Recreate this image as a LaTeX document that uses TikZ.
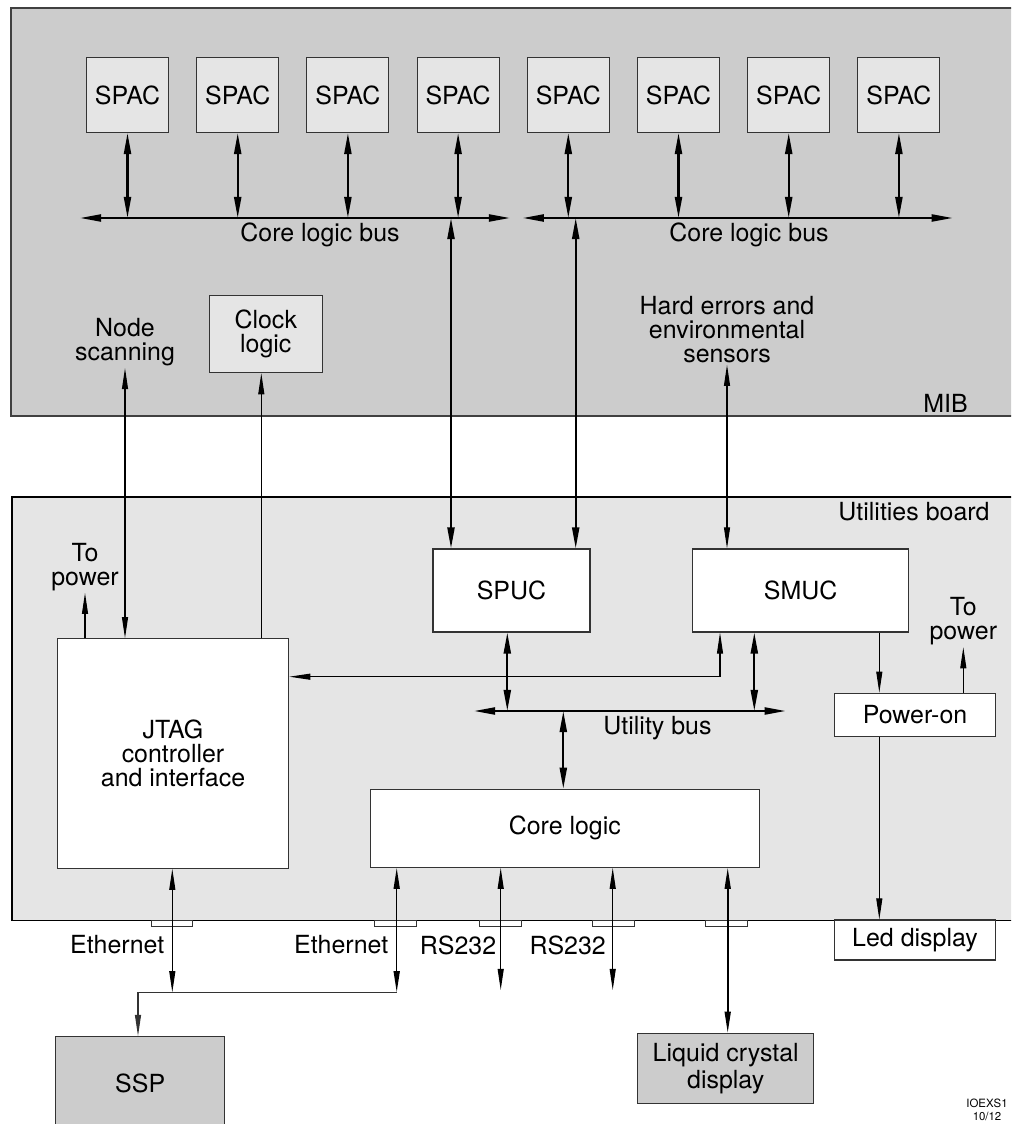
\documentclass[tikz,border=0pt]{standalone}
\usepackage{fontspec}
\setmainfont{TeX Gyre Heros}
\usepackage{xcolor}
\usetikzlibrary{positioning, arrows.meta}
\definecolor{mibgray}{HTML}{CCCCCC}
\definecolor{ubgray}{HTML}{E5E5E5}
\definecolor{edge}{HTML}{333333}

\begin{document}
\begin{tikzpicture}[
    x=0.02cm, y=-0.02cm,
    >={Triangle[length=12pt, width=3.4pt]},
    font=\fontsize{14.2}{13.6}\selectfont,
    box/.style={draw=edge, line width=0.6pt, align=center, inner sep=0pt},
    lt/.style={box, fill=ubgray},
    dk/.style={box, fill=mibgray},
    wt/.style={box, fill=white},
    lbl/.style={align=center, inner sep=1pt},
    tab/.style={draw=edge, line width=0.5pt, fill=white, inner sep=0pt,
                minimum width=0.834cm, minimum height=0.134cm},
    thn/.style={line width=0.6pt},
    thk/.style={line width=1.2pt, >={Triangle[length=12pt, width=4pt]}}]
    \useasboundingbox (0,0) rectangle (1011,1124);
    \clip (0,0) rectangle (1011,1124);
    % boards
    \node[draw=black!75, line width=0.7pt, fill=mibgray, inner sep=0pt,
          minimum width=20.28cm, minimum height=8.16cm] (mib) at (518,212) {};
    \node[draw=black, line width=1.1pt, fill=ubgray, inner sep=0pt,
          minimum width=20.26cm, minimum height=8.47cm] (ub) at (518.5,708.8) {};
    \node[lbl] (miblbl) at (945.5,403.3) {MIB};
    \node[lbl] (ublbl) at (914,511.7) {Utilities board};
    % MIB contents
    \foreach \i in {1,...,8}
      \node[lt, minimum width=1.64cm, minimum height=1.5cm] (s\i) at ({127.5+110.2*(\i-1)},95) {SPAC};
    \coordinate (b1w) at (80,218);
    \coordinate (b1e) at (510,218);
    \coordinate (b2w) at (522.7,218);
    \coordinate (b2e) at (952.7,218);
    \draw[thk,<->] (b1w) -- (b1e);
    \draw[thk,<->] (b2w) -- (b2e);
    \foreach \i in {1,...,4}
      \draw[thk,<->] (s\i.south) -- (s\i.south |- b1w);
    \foreach \i in {5,...,8}
      \draw[thk,<->] (s\i.south) -- (s\i.south |- b2w);
    \node[lbl] (cb1) at (320,235) {Core logic bus};
    \node[lbl] (cb2) at (749,235) {Core logic bus};
    \node[lbl] (ns) at (125,342.2) {Node\\scanning};
    \node[lt, minimum width=2.26cm, minimum height=1.54cm] (clk) at (265.8,334.2) {Clock\\logic};
    \node[lbl] (hes) at (727,329.5) {Hard errors and\\environmental\\sensors};
    % utilities board contents
    \node[wt, minimum width=4.63cm, minimum height=4.59cm] (jtag) at (173,753.5)
         {JTAG\\controller\\and interface};
    \node[wt, minimum width=3.14cm, minimum height=1.66cm] (spuc) at (511.5,590.5) {SPUC};
    \node[wt, minimum width=4.33cm, minimum height=1.66cm] (smuc) at (800.7,590.5) {SMUC};
    \node[wt, minimum width=7.79cm, minimum height=1.56cm] (core) at (564.8,828.3) {Core logic};
    \node[wt, minimum width=3.21cm, minimum height=0.87cm] (pon) at (915,715) {Power-on};
    \node[lbl] (tp1) at (85,567) {To\\power};
    \node[lbl] (tp2) at (963.3,621.3) {To\\power};
    \node[lbl] (ulbl) at (657.5,728.3) {Utility bus};
    % connectors on the board edge
    \foreach \i/\x in {1/171.9, 2/395.2, 3/500.2, 4/613.2, 5/726.5}
      \node[tab] (c\i) at (\x,923.4) {};
    \node[wt, minimum width=3.23cm, minimum height=0.8cm] (led) at (915,940) {Led display};
    % outside boxes
    \node[dk, minimum width=3.37cm, minimum height=1.87cm] (ssp) at (140.2,1083.3) {SSP};
    \node[dk, minimum width=3.53cm, minimum height=1.4cm,
          font=\fontsize{14.2}{15.2}\selectfont] (lcd) at (725.7,1068.3) {Liquid crystal\\display};
    \node[lbl] (eth1) at (117.2,945) {Ethernet};
    \node[lbl] (eth2) at (341.2,945) {Ethernet};
    \node[lbl] (rs1) at (458,945) {RS232};
    \node[lbl] (rs2) at (567.7,945) {RS232};
    \node[anchor=south east, align=center, inner sep=0pt,
          font=\fontsize{6.5}{7.6}\selectfont] (tag) at (1008,1121)
         {IOEXS1\\10/12};
    % core logic buses down to SPUC
    \coordinate (t1) at (451,218);
    \coordinate (t2) at (575.7,218);
    \draw[thk,<->] (t1) -- (t1 |- spuc.north);
    \draw[thk,<->] (t2) -- (t2 |- spuc.north);
    % MIB signals
    \draw[thn,<->] (hes.south) -- (hes.south |- smuc.north);
    \draw[thn,<->] (ns.south) -- (ns.south |- jtag.north);
    \coordinate (ck) at (261.3,500);
    \draw[thn,->] (ck |- jtag.north) -- (ck |- clk.south);
    \draw[thn,->] (tp1 |- jtag.north) -- (tp1.south);
    % utility bus
    \coordinate (ubw) at (474,711);
    \coordinate (ube) at (785.7,711);
    \coordinate (u1) at (507.3,711);
    \coordinate (u2) at (754.3,711);
    \coordinate (u3) at (563.3,711);
    \draw[thk,<->] (ubw) -- (ube);
    \draw[thk,<->] (u1 |- spuc.south) -- (u1);
    \draw[thk,<->] (u2 |- smuc.south) -- (u2);
    \draw[thk,<->] (u3) -- (u3 |- core.north);
    % SMUC to JTAG
    \coordinate (sj) at (720,676.7);
    \draw[thn,<->] (sj |- smuc.south) -- (sj) -- (sj -| jtag.east);
    % power-on
    \coordinate (px) at (879.3,700);
    \draw[thn,->] (px |- smuc.south) -- (px |- pon.north);
    \draw[thn,->] (px |- pon.south) -- (px |- led.north);
    \draw[thn,->] (tp2 |- pon.north) -- (tp2.south);
    % bottom links
    \coordinate (e1) at (172.3,992.3);
    \coordinate (e2) at (396.7,992.3);
    \coordinate (e0) at (138,992.3);
    \coordinate (r1) at (500.7,990);
    \coordinate (r2) at (612.7,990);
    \coordinate (lc) at (727.7,1000);
    \draw[thn,draw=edge,->] (e2) -- (e0) -- (e0 |- ssp.north);
    \draw[thn,<->] (e1 |- jtag.south) -- (e1);
    \draw[line width=0.9pt,<->] (e2 |- core.south) -- (e2);
    \draw[thn,<->] (r1 |- core.south) -- (r1);
    \draw[thn,<->] (r2 |- core.south) -- (r2);
    \draw[line width=0.9pt,<->] (lc |- core.south) -- (lc |- lcd.north);
\end{tikzpicture}
\end{document}
